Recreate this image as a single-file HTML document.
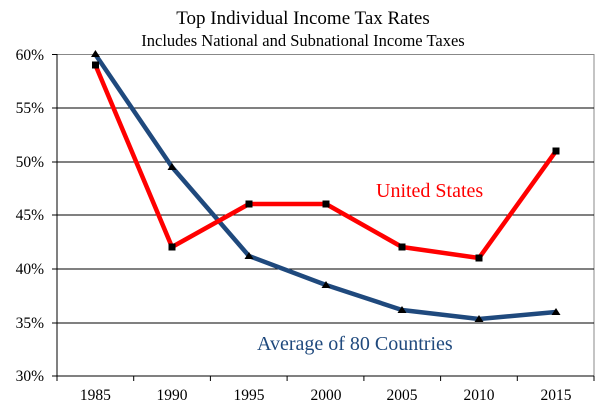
<!DOCTYPE html>
<html><head><style>
body{margin:0;background:#fff;}
</style></head><body>
<svg width="606" height="409" viewBox="0 0 606 409" xmlns="http://www.w3.org/2000/svg" font-family="'Liberation Serif', 'DejaVu Serif', serif">
<text x="303" y="24" font-size="19" text-anchor="middle">Top Individual Income Tax Rates</text>
<text x="303" y="46" font-size="16.5" text-anchor="middle">Includes National and Subnational Income Taxes</text>
<rect x="57" y="54.5" width="537" height="321.5" fill="none" stroke="#888" stroke-width="1"/>
<g stroke="#000" stroke-width="1">
<line x1="57" y1="108" x2="594" y2="108"/>
<line x1="57" y1="162" x2="594" y2="162"/>
<line x1="57" y1="215" x2="594" y2="215"/>
<line x1="57" y1="269" x2="594" y2="269"/>
<line x1="57" y1="323" x2="594" y2="323"/>
<line x1="57" y1="376" x2="594" y2="376"/>
<line x1="57" y1="54" x2="57" y2="381"/>
<line x1="52" y1="54.5" x2="57" y2="54.5"/><line x1="52" y1="108" x2="57" y2="108"/><line x1="52" y1="162" x2="57" y2="162"/><line x1="52" y1="215" x2="57" y2="215"/><line x1="52" y1="269" x2="57" y2="269"/><line x1="52" y1="323" x2="57" y2="323"/><line x1="52" y1="376" x2="57" y2="376"/>
<line x1="133.7" y1="376" x2="133.7" y2="381"/><line x1="210.4" y1="376" x2="210.4" y2="381"/><line x1="287.1" y1="376" x2="287.1" y2="381"/><line x1="363.9" y1="376" x2="363.9" y2="381"/><line x1="440.6" y1="376" x2="440.6" y2="381"/><line x1="517.3" y1="376" x2="517.3" y2="381"/><line x1="594" y1="376" x2="594" y2="381"/>
</g>
<g font-size="15.5" text-anchor="end">
<text x="44" y="60">60%</text><text x="44" y="113">55%</text><text x="44" y="167">50%</text><text x="44" y="220">45%</text><text x="44" y="274">40%</text><text x="44" y="328">35%</text><text x="44" y="381">30%</text>
</g>
<g font-size="15.5" text-anchor="middle">
<text x="95.4" y="400">1985</text><text x="172" y="400">1990</text><text x="249" y="400">1995</text><text x="326" y="400">2000</text><text x="402" y="400">2005</text><text x="479" y="400">2010</text><text x="556" y="400">2015</text>
</g>
<polyline fill="none" stroke="#1f497d" stroke-width="4.5" stroke-linejoin="round" points="95.4,54.5 172,167 249,256 326,285 402,310 479,319 556,312"/>
<polyline fill="none" stroke="#ff0000" stroke-width="4.5" stroke-linejoin="round" points="95.4,65 172,247 249,204 326,204 402,247 479,258 556,151"/>
<g fill="#000">
<polygon points="95.4,50 100,57 91,57"/><polygon points="172,163 176.5,170 167.5,170"/><polygon points="249,252 253.5,259 244.5,259"/><polygon points="326,281 330.5,288 321.5,288"/><polygon points="402,306 406.5,313 397.5,313"/><polygon points="479,315 483.5,322 474.5,322"/><polygon points="556,308 560.5,315 551.5,315"/>
<rect x="92" y="61.5" width="7" height="7"/><rect x="168.5" y="243.5" width="7" height="7"/><rect x="245.5" y="200.5" width="7" height="7"/><rect x="322.5" y="200.5" width="7" height="7"/><rect x="398.5" y="243.5" width="7" height="7"/><rect x="475.5" y="254.5" width="7" height="7"/><rect x="552.5" y="147.5" width="7" height="7"/>
</g>
<text x="376" y="197" font-size="20" fill="#ff0000">United States</text>
<text x="257" y="350" font-size="20" fill="#1f497d">Average of 80 Countries</text>
</svg>
</body></html>
